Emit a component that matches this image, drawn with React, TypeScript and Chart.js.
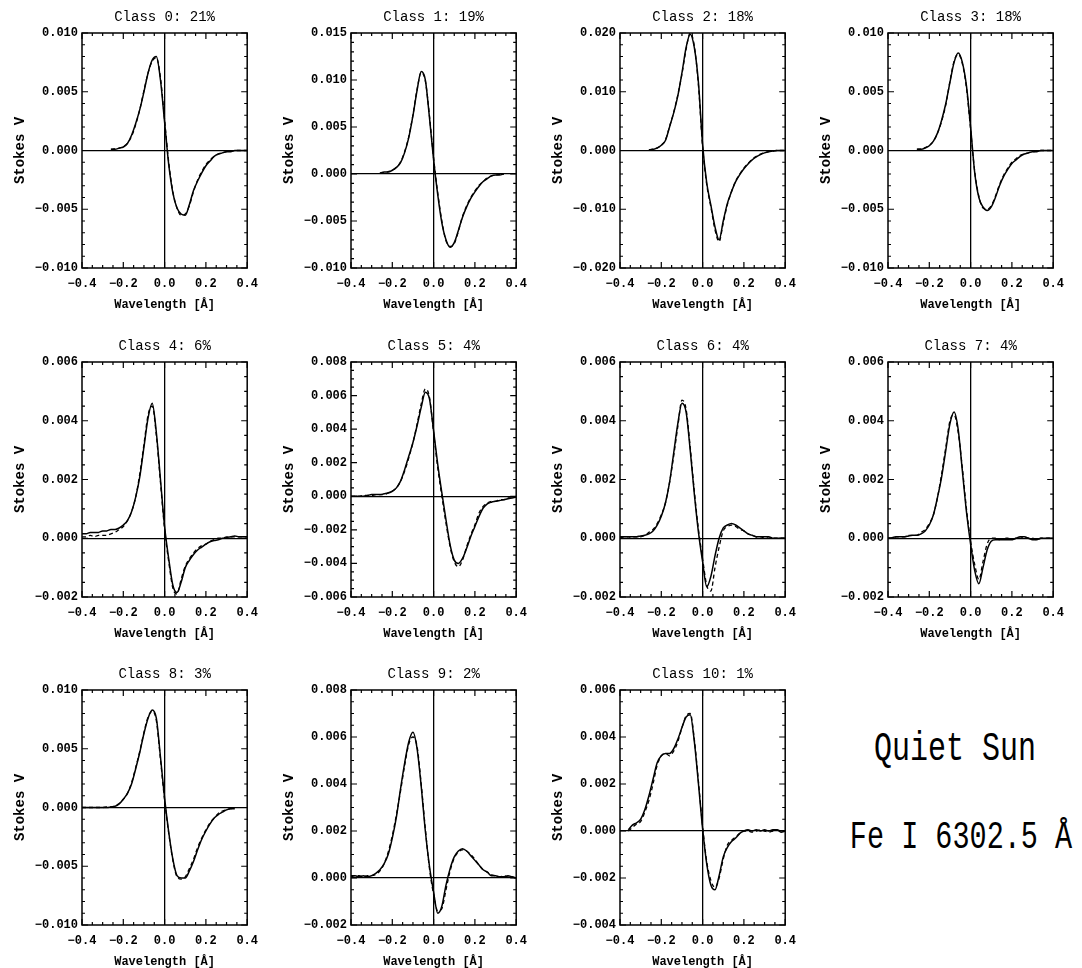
import React, { useEffect, useRef } from "react";
import { Chart, registerables } from "chart.js";

Chart.register(...registerables);

const N = null;

// Wavelength offsets [Å]
const wavelength = [
  -0.4, -0.38, -0.36, -0.34, -0.32, -0.3, -0.28, -0.26, -0.24, -0.22, -0.2,
  -0.18, -0.16, -0.14, -0.12, -0.1, -0.08, -0.06, -0.04, -0.02, 0,
  0.02, 0.04, 0.06, 0.08, 0.1, 0.12, 0.14, 0.16, 0.18, 0.2,
  0.22, 0.24, 0.26, 0.28, 0.3, 0.32, 0.34, 0.36, 0.38, 0.4,
];

// Stokes V values in units of 1e-3 (solid = observed, dashed = fit)
const class0Solid = [N, N, N, N, N, N, N, 0.1, 0.1, 0.2, 0.3, 0.6, 1.3, 2.3, 3.5, 5.0, 6.6, 7.7, 8.0, 6.0, 2.4, -1.2, -3.6, -4.9, -5.4, -5.5, -4.6, -3.4, -2.6, -1.9, -1.3, -0.9, -0.5, -0.3, -0.2, -0.1, -0.1, 0, 0, 0, 0];
const class0Dashed = [N, N, N, N, N, N, N, 0.1, 0.15, 0.2, 0.35, 0.6, 1.2, 2.2, 3.5, 5.1, 6.6, 7.6, 7.9, 6.2, 2.6, -1.0, -3.5, -4.9, -5.5, -5.4, -4.7, -3.5, -2.5, -1.8, -1.2, -0.8, -0.5, -0.3, -0.2, -0.1, -0.05, 0, 0, 0, 0];

const class1Solid = [N, N, N, N, N, N, N, 0.1, 0.2, 0.2, 0.4, 0.7, 1.2, 2.3, 3.9, 6.2, 8.9, 10.9, 10.0, 6.0, 1.5, -2.2, -5.2, -7.0, -7.8, -7.3, -6.0, -4.6, -3.5, -2.6, -1.9, -1.3, -0.8, -0.5, -0.2, -0.1, -0.1, 0, N, N, N];
const class1Dashed = [N, N, N, N, N, N, N, 0.1, 0.15, 0.25, 0.4, 0.7, 1.3, 2.4, 4.0, 6.3, 9.0, 10.8, 9.9, 6.2, 1.7, -2.0, -5.0, -7.1, -7.7, -7.4, -6.1, -4.5, -3.4, -2.5, -1.8, -1.2, -0.8, -0.4, -0.2, -0.1, -0.05, 0, N, N, N];

const class2Solid = [N, N, N, N, N, N, N, 0.1, 0.2, 0.4, 0.9, 1.7, 4.0, 6.4, 9.3, 13.2, 17.5, 19.8, 17.5, 11.5, 1.0, -5.5, -9.3, -13.0, -15.2, -12.0, -9.0, -7.0, -5.3, -4.1, -3.1, -2.3, -1.6, -1.1, -0.7, -0.4, -0.2, -0.1, 0, 0, 0];
const class2Dashed = [N, N, N, N, N, N, N, 0.1, 0.25, 0.45, 0.9, 1.8, 4.1, 6.5, 9.5, 13.0, 17.2, 20.0, 17.8, 11.0, 0.6, -5.8, -9.6, -13.5, -15.5, -12.3, -9.2, -7.0, -5.2, -4.0, -3.0, -2.2, -1.5, -1.0, -0.6, -0.4, -0.2, -0.1, 0, 0, 0];

const class3Solid = [N, N, N, N, N, N, N, 0.1, 0.1, 0.2, 0.4, 0.8, 1.5, 2.6, 4.0, 5.8, 7.5, 8.3, 7.5, 5.5, 2.0, -1.9, -4.0, -4.8, -5.1, -4.8, -4.0, -3.0, -2.2, -1.6, -1.1, -0.8, -0.5, -0.3, -0.2, -0.1, -0.1, 0, 0, 0, 0];
const class3Dashed = [N, N, N, N, N, N, N, 0.1, 0.15, 0.25, 0.45, 0.8, 1.5, 2.5, 3.9, 5.9, 7.6, 8.2, 7.4, 5.3, 1.8, -1.8, -3.9, -4.9, -5.0, -4.7, -3.9, -2.9, -2.1, -1.5, -1.0, -0.7, -0.4, -0.3, -0.2, -0.1, -0.05, 0, 0, 0, 0];

const class4Solid = [0.15, 0.15, 0.2, 0.2, 0.2, 0.25, 0.25, 0.3, 0.3, 0.35, 0.45, 0.6, 0.9, 1.4, 2.1, 3.1, 4.1, 4.6, 3.6, 2.0, 0.4, -0.7, -1.6, -1.85, -1.5, -1.0, -0.75, -0.55, -0.4, -0.3, -0.2, -0.12, -0.08, -0.05, 0, 0.02, 0.05, 0.08, 0.05, 0.05, 0.05];
const class4Dashed = [0.05, 0.05, 0.1, 0.05, 0.1, 0.1, 0.1, 0.15, 0.2, 0.3, 0.4, 0.6, 0.9, 1.4, 2.2, 3.2, 4.2, 4.5, 3.5, 1.9, 0.3, -0.8, -1.7, -1.9, -1.4, -0.95, -0.7, -0.5, -0.35, -0.25, -0.2, -0.1, -0.05, 0, 0, 0.05, 0.05, 0.05, 0.05, 0.05, 0.05];

const class5Solid = [0, 0, 0, 0, 0.05, 0.1, 0.1, 0.1, 0.15, 0.2, 0.3, 0.5, 0.9, 1.6, 2.4, 3.2, 4.2, 5.3, 6.2, 5.8, 3.9, 1.9, 0.2, -1.4, -2.9, -3.8, -4.0, -3.7, -3.1, -2.4, -1.8, -1.2, -0.7, -0.45, -0.35, -0.3, -0.25, -0.2, -0.15, -0.1, -0.05];
const class5Dashed = [0, 0, 0, 0.05, 0.05, 0.05, 0.1, 0.1, 0.1, 0.2, 0.3, 0.5, 0.9, 1.5, 2.3, 3.2, 4.3, 5.5, 6.4, 5.9, 3.8, 1.7, 0, -1.6, -3.0, -3.9, -4.2, -3.8, -3.0, -2.3, -1.7, -1.0, -0.6, -0.4, -0.3, -0.3, -0.2, -0.2, -0.1, -0.1, 0];

const class6Solid = [0.05, 0.05, 0.05, 0.05, 0.05, 0.08, 0.1, 0.15, 0.25, 0.45, 0.75, 1.2, 1.9, 2.9, 3.9, 4.6, 4.3, 3.0, 1.5, 0.2, -0.8, -1.65, -1.3, -0.6, 0.0, 0.35, 0.45, 0.5, 0.45, 0.35, 0.25, 0.15, 0.1, 0.05, 0.05, 0.05, 0.05, 0, 0, 0, 0];
const class6Dashed = [0, 0.05, 0, 0.05, 0.05, 0.05, 0.1, 0.2, 0.3, 0.5, 0.8, 1.2, 1.9, 2.8, 3.8, 4.7, 4.4, 3.1, 1.6, 0.3, -0.7, -1.6, -1.8, -1.0, -0.3, 0.25, 0.4, 0.45, 0.4, 0.3, 0.25, 0.15, 0.1, 0.05, 0, 0.05, 0, 0, 0, 0, 0];

const class7Solid = [0, 0.02, 0.05, 0.05, 0.05, 0.08, 0.1, 0.1, 0.15, 0.25, 0.45, 0.8, 1.4, 2.1, 3.0, 3.9, 4.3, 3.7, 2.3, 0.9, -0.2, -1.1, -1.55, -1.0, -0.4, -0.1, -0.05, -0.05, -0.05, -0.05, -0.05, 0, 0.05, 0.05, 0, -0.05, -0.05, 0, 0, 0, 0];
const class7Dashed = [0, 0, 0.05, 0.05, 0.05, 0.1, 0.1, 0.1, 0.2, 0.3, 0.5, 0.8, 1.4, 2.2, 3.1, 4.0, 4.2, 3.6, 2.4, 1.0, -0.1, -0.9, -1.4, -0.8, -0.2, 0, 0, -0.05, 0, 0, -0.05, 0, 0, 0.05, 0, 0, -0.05, 0, 0, 0, 0];

const class8Solid = [0, 0, 0, 0, 0, 0, 0, 0.05, 0.1, 0.3, 0.7, 1.2, 2.0, 3.3, 4.7, 6.3, 7.6, 8.3, 7.6, 4.3, 0.8, -2.1, -4.4, -5.8, -6.0, -6.0, -5.4, -4.6, -3.6, -2.7, -2.0, -1.4, -0.9, -0.6, -0.4, -0.2, -0.1, -0.1, N, N, N];
const class8Dashed = [0, 0, 0, 0, 0, 0, 0.05, 0.05, 0.15, 0.35, 0.7, 1.2, 2.1, 3.4, 4.8, 6.4, 7.7, 8.2, 7.4, 4.1, 0.6, -2.2, -4.5, -5.9, -6.1, -5.9, -5.2, -4.4, -3.4, -2.6, -1.9, -1.3, -0.9, -0.5, -0.3, -0.2, -0.1, -0.1, N, N, N];

const class9Solid = [0.1, 0.1, 0.05, 0.1, 0.05, 0.1, 0.2, 0.35, 0.6, 1.0, 1.7, 2.6, 3.8, 4.9, 5.8, 6.2, 5.5, 3.9, 2.0, 0.5, -0.6, -1.5, -1.2, -0.3, 0.4, 0.9, 1.15, 1.25, 1.15, 0.95, 0.75, 0.55, 0.35, 0.25, 0.1, 0.1, 0.05, 0.05, 0.1, 0.05, 0];
const class9Dashed = [0.05, 0.1, 0.1, 0.05, 0.1, 0.1, 0.15, 0.3, 0.6, 1.1, 1.8, 2.7, 3.7, 4.8, 5.7, 6.0, 5.6, 4.0, 2.1, 0.4, -0.7, -1.4, -1.3, -0.5, 0.3, 0.85, 1.1, 1.2, 1.15, 1.0, 0.8, 0.55, 0.35, 0.25, 0.15, 0.1, 0.05, 0.1, 0.05, 0.05, 0];

const class10Solid = [N, N, 0.05, 0.25, 0.35, 0.5, 0.9, 1.5, 2.2, 2.9, 3.2, 3.3, 3.3, 3.5, 3.9, 4.4, 4.85, 4.95, 3.8, 2.0, 0.1, -1.4, -2.3, -2.5, -1.9, -1.1, -0.7, -0.45, -0.3, -0.1, 0, 0.05, 0, 0.05, 0, 0.05, 0, 0.05, 0.05, -0.05, 0];
const class10Dashed = [N, N, 0, 0.15, 0.3, 0.4, 0.8, 1.3, 2.0, 2.8, 3.2, 3.3, 3.2, 3.4, 3.8, 4.4, 4.9, 5.0, 3.9, 2.1, 0.2, -1.3, -2.1, -2.4, -2.0, -1.2, -0.6, -0.4, -0.25, -0.1, 0, 0, -0.05, 0, 0.05, 0, -0.05, 0, 0.05, 0, 0];

const solidSeries = [class0Solid, class1Solid, class2Solid, class3Solid, class4Solid, class5Solid, class6Solid, class7Solid, class8Solid, class9Solid, class10Solid];
const dashedSeries = [class0Dashed, class1Dashed, class2Dashed, class3Dashed, class4Dashed, class5Dashed, class6Dashed, class7Dashed, class8Dashed, class9Dashed, class10Dashed];

const classIds = [0, 1, 2, 3, 4, 5, 6, 7, 8, 9, 10];
const classPercent = [21, 19, 18, 18, 6, 4, 4, 4, 3, 2, 1];

// Axis tick settings
const yMinValues = [-0.01, -0.01, -0.02, -0.01, -0.002, -0.006, -0.002, -0.002, -0.01, -0.002, -0.004];
const yMaxValues = [0.01, 0.015, 0.02, 0.01, 0.006, 0.008, 0.006, 0.006, 0.01, 0.008, 0.006];
const yStepValues = [0.005, 0.005, 0.01, 0.005, 0.002, 0.002, 0.002, 0.002, 0.005, 0.002, 0.002];
const yMinorDivs = [5, 5, 5, 5, 4, 4, 4, 4, 5, 4, 4];
const xMin = -0.4;
const xMax = 0.4;
const xStep = 0.2;
const xMinorDiv = 4;

const xAxisLabel = "Wavelength [\u00C5]";
const yAxisLabel = "Stokes V";
const sideTextLines = ["Quiet Sun", "Fe I 6302.5 \u00C5"];

// Layout
const plotLefts = [82, 351, 620, 888];
const plotTops = [33, 362, 690];
const PLOT_W = 171;
const PLOT_H = 235;
const Y_AXIS_W = 82;
const TITLE_H = 33;
const X_AXIS_H = 45;
const RIGHT_PAD = 14;

const FONT = '"Liberation Mono", "DejaVu Sans Mono", monospace';

function fmt(v: number, d: number): string {
  if (Math.abs(v) < 1e-12) return (0).toFixed(d);
  return (v < 0 ? "\u2212" : "") + Math.abs(v).toFixed(d);
}

function Panel({ index }: { index: number }) {
  const ref = useRef<HTMLCanvasElement | null>(null);
  const row = Math.floor(index / 4);
  const col = index % 4;
  const left = plotLefts[col] - Y_AXIS_W;
  const top = plotTops[row] - TITLE_H;
  const width = Y_AXIS_W + PLOT_W + RIGHT_PAD;
  const height = TITLE_H + PLOT_H + X_AXIS_H;

  useEffect(() => {
    if (!ref.current) return;
    const ymin = yMinValues[index];
    const ymax = yMaxValues[index];
    const ystep = yStepValues[index];
    const yminor = yMinorDivs[index];
    const toPts = (arr: (number | null)[]) =>
      wavelength.map((x, i) => ({ x, y: arr[i] === null ? null : (arr[i] as number) * 1e-3 }));

    const frame = {
      id: "frame",
      afterDraw(chart: any) {
        const { ctx, chartArea } = chart;
        const { left: l, right: r, top: t, bottom: b } = chartArea;
        const xs = chart.scales.x;
        const ys = chart.scales.y;
        ctx.save();
        ctx.strokeStyle = "#000";
        ctx.lineWidth = 1.5;
        ctx.strokeRect(l, t, r - l, b - t);
        ctx.lineWidth = 1.2;
        ctx.beginPath();
        const nx = Math.round(((xMax - xMin) / xStep) * xMinorDiv);
        for (let k = 0; k <= nx; k++) {
          const v = xMin + (k * xStep) / xMinorDiv;
          const len = k % xMinorDiv === 0 ? 6 : 3;
          const p = xs.getPixelForValue(v);
          ctx.moveTo(p, b);
          ctx.lineTo(p, b - len);
          ctx.moveTo(p, t);
          ctx.lineTo(p, t + len);
        }
        const ny = Math.round(((ymax - ymin) / ystep) * yminor);
        for (let k = 0; k <= ny; k++) {
          const v = ymin + (k * ystep) / yminor;
          const len = k % yminor === 0 ? 6 : 3;
          const p = ys.getPixelForValue(v);
          ctx.moveTo(l, p);
          ctx.lineTo(l + len, p);
          ctx.moveTo(r, p);
          ctx.lineTo(r - len, p);
        }
        ctx.stroke();
        ctx.restore();
      },
    };

    const zeroColor = (c: any) =>
      c.tick && Math.abs(c.tick.value) < 1e-12 ? "#000" : "rgba(0,0,0,0)";

    const chart = new Chart(ref.current, {
      type: "line",
      data: {
        datasets: [
          {
            data: toPts(dashedSeries[index]),
            borderColor: "#000",
            borderWidth: 1.3,
            borderDash: [4, 3],
            pointRadius: 0,
            fill: false,
            cubicInterpolationMode: "monotone",
          },
          {
            data: toPts(solidSeries[index]),
            borderColor: "#000",
            borderWidth: 1.5,
            pointRadius: 0,
            fill: false,
            cubicInterpolationMode: "monotone",
          },
        ],
      } as any,
      options: {
        animation: false,
        responsive: false,
        layout: { autoPadding: false, padding: { left: 0, top: 0, right: RIGHT_PAD, bottom: 0 } },
        plugins: {
          legend: { display: false },
          tooltip: { enabled: false },
          title: {
            display: true,
            text: `Class ${classIds[index]}: ${classPercent[index]}%`,
            color: "#000",
            fullSize: false,
            font: { family: FONT, size: 14, weight: "normal", lineHeight: "16px" },
            padding: { top: 9, bottom: 8 },
          },
        },
        scales: {
          x: {
            type: "linear",
            min: xMin,
            max: xMax,
            afterFit: (s: any) => {
              s.height = X_AXIS_H;
            },
            ticks: {
              stepSize: xStep,
              autoSkip: false,
              maxRotation: 0,
              color: "#000",
              padding: 9,
              font: { family: FONT, size: 12, weight: "bold" },
              callback: (v: any) => fmt(Number(v), 1),
            },
            grid: { drawTicks: false, color: zeroColor, lineWidth: 1.3 },
            border: { display: false },
            title: {
              display: true,
              text: xAxisLabel,
              color: "#000",
              font: { family: FONT, size: 12, weight: "bold", lineHeight: "12px" },
              padding: { top: 0, bottom: 2 },
            },
          },
          y: {
            type: "linear",
            min: ymin,
            max: ymax,
            afterFit: (s: any) => {
              s.width = Y_AXIS_W;
            },
            ticks: {
              stepSize: ystep,
              autoSkip: false,
              color: "#000",
              padding: 4,
              font: { family: FONT, size: 12, weight: "bold" },
              callback: (v: any) => fmt(Number(v), 3),
            },
            grid: { drawTicks: false, color: zeroColor, lineWidth: 1.3 },
            border: { display: false },
            title: {
              display: true,
              text: yAxisLabel,
              color: "#000",
              font: { family: FONT, size: 14, weight: "bold", lineHeight: "14px" },
              padding: { top: 13, bottom: 0 },
            },
          },
        },
      } as any,
      plugins: [frame],
    });
    return () => chart.destroy();
  }, [index]);

  return (
    <canvas
      ref={ref}
      width={width}
      height={height}
      style={{ position: "absolute", left, top, width, height }}
    />
  );
}

export default function App() {
  return (
    <div
      style={{
        position: "absolute",
        left: 0,
        top: 0,
        width: 1082,
        height: 968,
        background: "#fff",
        overflow: "hidden",
      }}
    >
      {classIds.map((c, i) => (
        <Panel key={c} index={i} />
      ))}
      <div
        style={{
          position: "absolute",
          left: 830,
          top: 734,
          width: 250,
          textAlign: "center",
          fontFamily: FONT,
          fontSize: 30,
          lineHeight: "30px",
          color: "#000",
          transform: "scaleY(1.35)",
          whiteSpace: "nowrap",
        }}
      >
        {sideTextLines[0]}
      </div>
      <div
        style={{
          position: "absolute",
          left: 836,
          top: 824,
          width: 250,
          textAlign: "center",
          fontFamily: FONT,
          fontSize: 28.5,
          lineHeight: "30px",
          color: "#000",
          transform: "scaleY(1.35)",
          whiteSpace: "nowrap",
        }}
      >
        {sideTextLines[1]}
      </div>
    </div>
  );
}
